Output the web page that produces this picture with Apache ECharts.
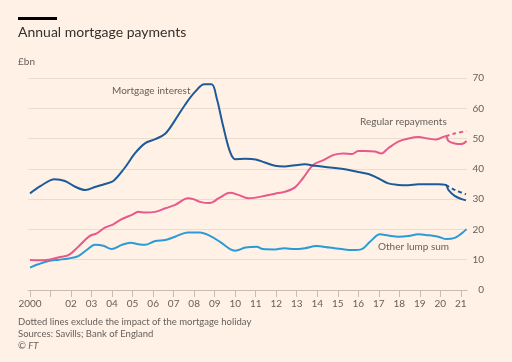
<!DOCTYPE html>
<html><head><meta charset="utf-8">
<script src="https://cdn.jsdelivr.net/npm/echarts@6/dist/echarts.min.js"></script>
<style>html,body{margin:0;padding:0;background:#fff1e5;}#c{width:512px;height:362px;}</style>
</head><body><div id="c"></div>
<script>
// Decimal years and values (£bn)
const interestX = [2000.0,2000.5,2001.2,2001.7,2002.2,2002.7,2003.2,2003.65,2004.06,2004.6,2005.1,2005.6,2006.1,2006.6,2007.07,2007.55,2008.04,2008.5,2008.85,2009.1,2009.4,2009.75,2010.0,2010.5,2011.0,2011.45,2011.94,2012.4,2012.9,2013.4,2013.9,2014.4,2014.86,2015.35,2015.84,2016.5,2016.97,2017.46,2017.95,2018.44,2018.93,2019.4,2019.9,2020.26,2020.4,2020.7,2021.04,2021.25];
const interestY = [31.9,34.3,36.6,36.0,34.1,33.0,34.1,35.0,36.0,40.2,45.0,48.4,49.8,51.7,56.1,61.1,65.4,67.9,67.9,63.3,54.5,45.6,43.2,43.3,43.1,42.1,41.0,40.8,41.2,41.5,41.0,40.6,40.3,39.9,39.2,38.3,36.9,35.2,34.7,34.6,34.9,34.9,34.9,34.7,33.0,31.1,30.0,29.6];
const interestDashX = [2020.26,2020.6,2020.9,2021.25];
const interestDashY = [34.7,33.4,32.5,31.6];

const repayX = [2000.0,2000.4,2000.9,2001.4,2001.87,2002.35,2002.9,2003.25,2003.65,2004.06,2004.47,2004.96,2005.28,2005.6,2006.1,2006.6,2007.07,2007.7,2007.96,2008.28,2008.77,2009.2,2009.75,2010.15,2010.64,2011.0,2011.45,2011.94,2012.4,2012.9,2013.3,2013.8,2014.3,2014.8,2015.27,2015.7,2016.0,2016.33,2016.8,2017.13,2017.46,2017.95,2018.44,2018.93,2019.4,2019.8,2020.26,2020.4,2020.7,2021.04,2021.28];
const repayY = [9.9,9.8,10.0,10.8,11.5,14.3,17.8,18.7,20.6,21.7,23.4,24.8,25.8,25.6,25.8,27.0,28.1,30.3,30.0,29.1,28.7,30.3,32.1,31.4,30.3,30.5,31.1,31.8,32.4,33.8,36.9,41.3,42.9,44.6,45.1,44.9,45.9,45.9,45.7,45.1,46.8,49.0,50.0,50.5,50.0,49.7,50.8,49.2,48.4,48.2,49.2];
const repayDashX = [2020.26,2020.7,2021.28];
const repayDashY = [50.8,51.7,52.5];

const lumpX = [2000.0,2000.4,2000.9,2001.4,2001.87,2002.35,2002.76,2003.17,2003.57,2003.98,2004.47,2004.9,2005.28,2005.6,2006.1,2006.6,2007.07,2007.7,2008.28,2008.77,2009.26,2009.75,2010.0,2010.5,2011.05,2011.35,2011.94,2012.4,2012.9,2013.4,2013.95,2014.6,2015.2,2015.7,2016.17,2016.57,2017.06,2017.46,2017.95,2018.44,2018.93,2019.4,2019.9,2020.3,2020.7,2021.04,2021.28];
const lumpY = [7.4,8.5,9.6,10.0,10.4,11.2,13.2,14.9,14.6,13.5,14.9,15.6,15.1,14.9,16.2,16.5,17.6,19.0,19.0,17.9,15.9,13.5,13.0,14.0,14.3,13.5,13.4,13.8,13.5,13.8,14.5,14.0,13.5,13.2,13.5,15.9,18.4,18.0,17.6,17.8,18.4,18.1,17.6,16.8,17.2,18.7,20.1];

const yearTicks = [2000,2001,2002,2003,2004,2005,2006,2007,2008,2009,2010,2011,2012,2013,2014,2015,2016,2017,2018,2019,2020,2021];
const yearLabels = [2000,2002,2003,2004,2005,2006,2007,2008,2009,2010,2011,2012,2013,2014,2015,2016,2017,2018,2019,2020,2021];

const zip = (xs, ys) => xs.map((x, i) => [x, ys[i]]);
const FONT = 'Lato';
const TXT = '#66605c';
const DARK = '#1c5a99', PINK = '#e8588b', LIGHT = '#2a9bd6';

function lineSeries(data, color, dashed) {
  return {
    type: 'line', data: data, showSymbol: false, smooth: 0.35,
    lineStyle: { color: color, width: 2, type: dashed ? [4, 3] : 'solid' },
    silent: true, animation: false, z: dashed ? 2 : 3
  };
}

const chart = echarts.init(document.getElementById('c'), null, { renderer: 'canvas' });
chart.setOption({
  backgroundColor: '#fff1e5',
  animation: false,
  grid: { left: 28, right: 45, top: 78, bottom: 72 },
  xAxis: {
    type: 'value', min: 1999.9, max: 2021.3,
    axisLine: { show: true, lineStyle: { color: '#c9bdb2', width: 1 } },
    axisTick: { show: true, customValues: yearTicks, length: 7, lineStyle: { color: '#c9bdb2' } },
    axisLabel: {
      customValues: yearLabels, color: TXT, fontFamily: FONT, fontSize: 10, margin: 9,
      formatter: v => v === 2000 ? '2000' : String(v).slice(2)
    },
    splitLine: { show: false }
  },
  yAxis: {
    type: 'value', position: 'right', min: 0, max: 70, interval: 10,
    axisLine: { show: false }, axisTick: { show: false },
    axisLabel: { color: TXT, fontFamily: FONT, fontSize: 10, align: 'right', margin: 17 },
    splitLine: { lineStyle: { color: '#eadccf', width: 1 } }
  },
  series: [
    lineSeries(zip(interestDashX, interestDashY), DARK, true),
    lineSeries(zip(repayDashX, repayDashY), PINK, true),
    lineSeries(zip(lumpX, lumpY), LIGHT, false),
    lineSeries(zip(repayX, repayY), PINK, false),
    lineSeries(zip(interestX, interestY), DARK, false)
  ],
  graphic: [
    { type: 'rect', left: 18, top: 17, shape: { width: 39, height: 3 }, style: { fill: '#000' } },
    { type: 'text', left: 18, top: 25, style: { text: 'Annual mortgage payments', fill: '#33302e', font: '14px Lato' } },
    { type: 'text', left: 18, top: 57, style: { text: '£bn', fill: TXT, font: '10px Lato' } },
    { type: 'text', left: 112, top: 86, style: { text: 'Mortgage interest', fill: TXT, font: '10px Lato' } },
    { type: 'text', left: 360, top: 117, style: { text: 'Regular repayments', fill: TXT, font: '10px Lato' } },
    { type: 'text', left: 378, top: 242, style: { text: 'Other lump sum', fill: TXT, font: '10px Lato' } },
    { type: 'text', left: 18, top: 317, style: { text: 'Dotted lines exclude the impact of the mortgage holiday', fill: TXT, font: '9.5px Lato' } },
    { type: 'text', left: 18, top: 329, style: { text: 'Sources: Savills; Bank of England', fill: TXT, font: '9.5px Lato' } },
    { type: 'text', left: 18, top: 341, style: { text: '© {i|FT}', fill: TXT, font: '9.5px Lato', rich: { i: { fontStyle: 'italic', fontFamily: 'Lato', fontSize: 9.5, fill: TXT } } } }
  ]
});
</script>
</body></html>
